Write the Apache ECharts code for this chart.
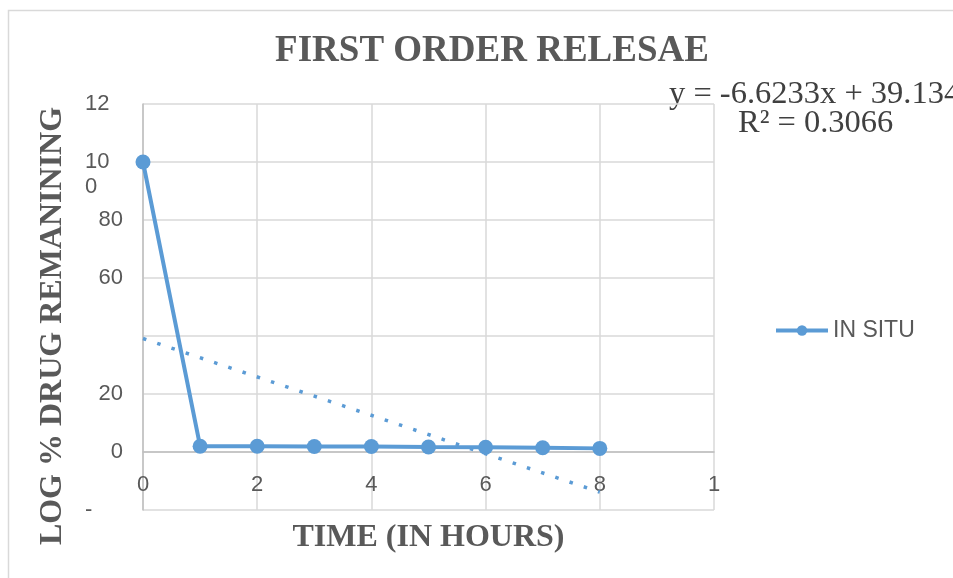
<!DOCTYPE html>
<html>
<head>
<meta charset="utf-8">
<script src="https://cdn.jsdelivr.net/npm/echarts@6/dist/echarts.min.js"></script>
<style>html,body{margin:0;padding:0;background:#fff;}#c{width:953px;height:578px;}</style>
</head>
<body>
<div id="c"></div>
<script>
// ---- data ----
const timeHours = [0, 1, 2, 3, 4, 5, 6, 7, 8];
const logDrugRemaining = [100, 2.0, 1.96, 1.92, 1.88, 1.7, 1.62, 1.45, 1.25];
const trendX = [0, 8];
const trendY = [39.134, -13.85];
const equationText = 'y = -6.6233x + 39.134';
const r2Text = 'R² = 0.3066';
const seriesName = 'IN SITU';
const titleText = 'FIRST ORDER RELESAE';
const xTitle = 'TIME (IN HOURS)';
const yTitle = 'LOG % DRUG REMANINING';
const yTickValues = [-20, 0, 20, 40, 60, 80, 100, 120];
const yTickLabels = ['-', '0', '20', '', '60', '80', '10\n0', '12'];
const xTickValues = [0, 2, 4, 6, 8, 10];
const xTickLabels = ['0', '2', '4', '6', '8', '1'];

const chart = echarts.init(document.getElementById('c'), null, {renderer: 'canvas'});
const TXT = '#595959';
const BLUE = '#5B9BD5';
const serif = '"Liberation Serif", "Times New Roman", serif';
const sans = '"Liberation Sans", Arial, sans-serif';

function yFmt(v) {
  const i = yTickValues.indexOf(v);
  if (i < 0) return '';
  const s = yTickLabels[i];
  if (s === '') return '';
  if (s.indexOf('\n') >= 0) {
    return '{l| }\n' + s.split('\n').map(p => '{l|' + p + '}').join('\n');
  }
  if (s === '12' || s === '-') return '{l|' + s + '}';
  return s;
}
function xFmt(v) {
  const i = xTickValues.indexOf(v);
  return i < 0 ? '' : xTickLabels[i];
}

chart.setOption({
  animation: false,
  backgroundColor: '#fff',
  title: {
    text: titleText, left: 487, top: 28, textAlign: 'center',
    textStyle: {fontFamily: serif, fontWeight: 'bold', fontSize: 37, color: TXT}
  },
  legend: {
    left: 769, top: 314, itemWidth: 52, itemHeight: 13, itemGap: 10,
    data: [seriesName],
    lineStyle: {width: 4},
    textStyle: {fontFamily: sans, fontSize: 23, color: TXT}
  },
  grid: {left: 143, top: 104, width: 571, height: 406, containLabel: false, outerBoundsMode: 'none'},
  xAxis: {
    type: 'value', min: 0, max: 10, interval: 2,
    name: xTitle, nameLocation: 'middle', nameGap: 12, nameMoveOverlap: false,
    nameTextStyle: {fontFamily: serif, fontWeight: 'bold', fontSize: 32, color: TXT},
    axisLine: {onZero: true, lineStyle: {color: '#BFBFBF', width: 1.5}},
    axisTick: {show: false},
    axisLabel: {formatter: xFmt, margin: -36, fontFamily: sans, fontSize: 22, color: TXT},
    splitLine: {show: true, lineStyle: {color: '#D9D9D9', width: 1.5}}
  },
  yAxis: {
    type: 'value', min: -20, max: 120, interval: 20,
    name: yTitle, nameLocation: 'middle', nameGap: 74, nameRotate: 90,
    nameTextStyle: {fontFamily: serif, fontWeight: 'bold', fontSize: 32, color: TXT, padding: [0, 38, 0, 0]},
    axisLine: {show: true, onZero: false, lineStyle: {color: '#BFBFBF', width: 1.5}},
    axisTick: {show: false},
    axisLabel: {
      formatter: yFmt, margin: 20, fontFamily: sans, fontSize: 22, color: TXT, lineHeight: 25,
      rich: {l: {width: 38, align: 'left', fontFamily: sans, fontSize: 22, color: TXT, lineHeight: 25}}
    },
    splitLine: {show: true, lineStyle: {color: '#D9D9D9', width: 1.5}}
  },
  series: [
    {
      name: seriesName, type: 'line',
      data: timeHours.map((x, i) => [x, logDrugRemaining[i]]),
      symbol: 'circle', symbolSize: 15,
      lineStyle: {color: BLUE, width: 4},
      itemStyle: {color: BLUE},
      z: 3
    },
    {
      name: 'trend', type: 'line',
      data: trendX.map((x, i) => [x, trendY[i]]),
      symbol: 'none',
      lineStyle: {color: BLUE, width: 3.5, type: [3.5, 11.5], cap: 'butt'},
      z: 2
    }
  ],
  graphic: [
    {type: 'rect', left: 6, top: 8, z: -10, silent: true,
     shape: {width: 1000, height: 1000}, style: {fill: 'none', stroke: '#D9D9D9', lineWidth: 1.5}},
    {type: 'text', x: 669, y: 94, style: {text: equationText, font: '32.5px ' + serif, fill: '#404040', textVerticalAlign: 'middle'}},
    {type: 'text', x: 738, y: 123, style: {text: r2Text, font: '32.5px ' + serif, fill: '#404040', textVerticalAlign: 'middle'}}
  ]
});
</script>
</body>
</html>
